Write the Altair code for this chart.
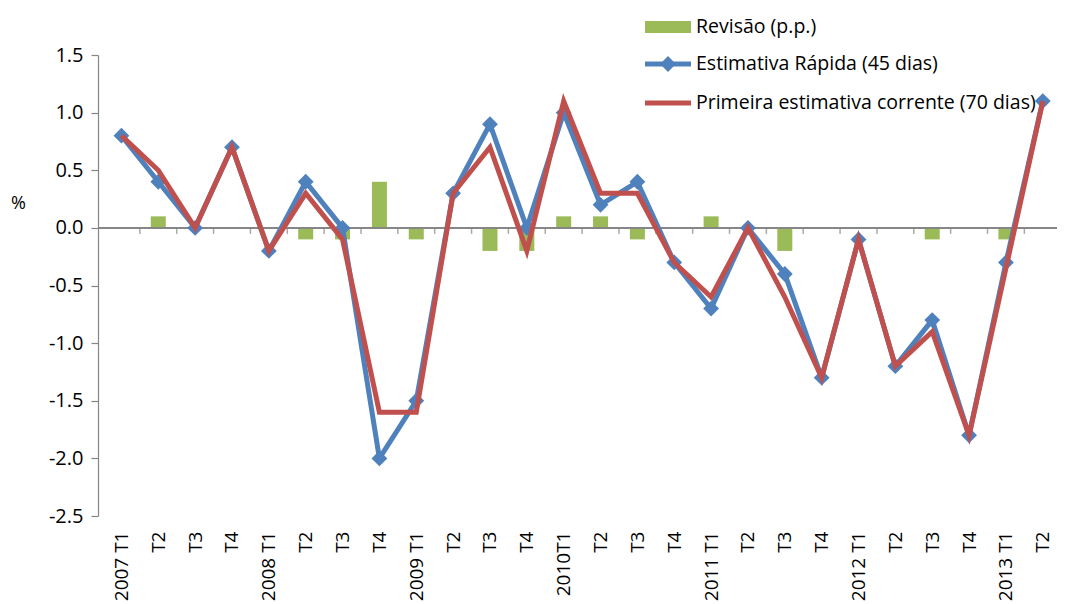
import altair as alt
import pandas as pd

periods = ["2007 T1", "T2", "T3", "T4",
           "2008 T1", "T2", "T3", "T4",
           "2009 T1", "T2", "T3", "T4",
           "2010T1", "T2", "T3", "T4",
           "2011 T1", "T2", "T3", "T4",
           "2012 T1", "T2", "T3", "T4",
           "2013 T1", "T2"]
rapida = [0.8, 0.4, 0.0, 0.7, -0.2, 0.4, 0.0, -2.0, -1.5, 0.3, 0.9, 0.0, 1.0,
          0.2, 0.4, -0.3, -0.7, 0.0, -0.4, -1.3, -0.1, -1.2, -0.8, -1.8, -0.3, 1.1]
corrente = [0.8, 0.5, 0.0, 0.7, -0.2, 0.3, -0.1, -1.6, -1.6, 0.3, 0.7, -0.2, 1.1,
            0.3, 0.3, -0.3, -0.6, 0.0, -0.6, -1.3, -0.1, -1.2, -0.9, -1.8, -0.35, 1.1]
revisao = [0.0, 0.1, 0.0, 0.0, 0.0, -0.1, -0.1, 0.4, -0.1, 0.0, -0.2, -0.2, 0.1,
           0.1, -0.1, 0.0, 0.1, 0.0, -0.2, 0.0, 0.0, 0.0, -0.1, 0.0, -0.1, 0.0]
legend_labels = ["Revisão (p.p.)", "Estimativa Rápida (45 dias)",
                 "Primeira estimativa corrente (70 dias)"]
y_ticks = [-2.5, -2.0, -1.5, -1.0, -0.5, 0.0, 0.5, 1.0, 1.5]

GREEN = "#9BBB59"
BLUE = "#4F81BD"
RED = "#C0504D"
GRAY = "#868686"
FONT = "Open Sans"

df = pd.DataFrame({
    "idx": list(range(len(periods))),
    "period": periods,
    "rapida": rapida,
    "corrente": corrente,
    "revisao": revisao,
})

label_expr = "[" + ",".join(f"'{p}'" for p in periods) + "][datum.value]"

xscale = alt.Scale(domain=[-0.5, 25.25], nice=False, zero=False)
yscale = alt.Scale(domain=[-2.5, 1.5], nice=False, zero=False)

x_axis = alt.Axis(values=list(range(len(periods))), labelExpr=label_expr,
                  labelAngle=270, labelAlign="right", labelBaseline="middle",
                  labelPadding=15, ticks=False, domain=False, grid=False,
                  labelFontSize=19, labelFont=FONT, labelColor="black",
                  title=None, labelOverlap=False, labelFlush=False, labelBound=False)

y_axis = alt.Axis(values=y_ticks,
                  labelExpr="replace(format(datum.value,'.1f'),'\u2212','-')",
                  labelFontSize=20, labelFont=FONT, labelColor="black",
                  labelPadding=8, tickSize=7, tickColor=GRAY, domainColor=GRAY,
                  tickWidth=1.2, domainWidth=1.2, grid=False,
                  title="%", titleAngle=0, titleX=-80, titleY=148,
                  titleAlign="center", titleBaseline="middle",
                  titleFont=FONT, titleFontSize=18, titleFontWeight="normal",
                  titleColor="black")

base = alt.Chart(df).encode(x=alt.X("idx:Q", scale=xscale, axis=x_axis))

bars = base.mark_bar(size=15, color=GREEN).encode(
    y=alt.Y("revisao:Q", scale=yscale, axis=y_axis))

zero_line = base.transform_calculate(z="0").mark_rule(
    color=GRAY, strokeWidth=1.5).encode(
    x=alt.value(0), x2=alt.value(959),
    y=alt.Y("z:Q", scale=yscale, axis=y_axis))

cat_ticks = base.transform_filter(
    alt.datum.idx < len(periods) - 1
).transform_calculate(b="datum.idx + 0.5", z="0").mark_tick(
    orient="vertical", size=6, thickness=1.5, color=GRAY, yOffset=3
).encode(x=alt.X("b:Q", scale=xscale, axis=x_axis),
         y=alt.Y("z:Q", scale=yscale, axis=y_axis))

blue_line = base.mark_line(color=BLUE, strokeWidth=5).encode(
    y=alt.Y("rapida:Q", scale=yscale, axis=y_axis))
blue_pts = base.mark_point(shape="diamond", filled=True, size=250, color=BLUE,
                           opacity=1).encode(y=alt.Y("rapida:Q", scale=yscale, axis=y_axis))
red_line = base.mark_line(color=RED, strokeWidth=5).encode(
    y=alt.Y("corrente:Q", scale=yscale, axis=y_axis))

# manual legend
def leg_df(i):
    return pd.DataFrame({"label": [legend_labels[i]]})

LX0, LX1, LT = 547, 593, 598
leg_rect = alt.Chart(leg_df(0)).mark_rect(color=GREEN).encode(
    x=alt.value(LX0), x2=alt.value(LX1), y=alt.value(-34), y2=alt.value(-22))
leg_blue = alt.Chart(leg_df(1)).mark_rule(color=BLUE, strokeWidth=5).encode(
    x=alt.value(LX0), x2=alt.value(LX1), y=alt.value(9))
leg_blue_pt = alt.Chart(leg_df(1)).mark_point(
    shape="diamond", filled=True, size=250, color=BLUE, opacity=1).encode(
    x=alt.value((LX0 + LX1) / 2), y=alt.value(9))
leg_red = alt.Chart(leg_df(2)).mark_rule(color=RED, strokeWidth=5).encode(
    x=alt.value(LX0), x2=alt.value(LX1), y=alt.value(48))

def leg_text(i, y):
    return alt.Chart(leg_df(i)).mark_text(
        align="left", baseline="middle", font=FONT, fontSize=19.5, color="black"
    ).encode(x=alt.value(LT), y=alt.value(y), text="label:N")

chart = alt.layer(
    bars, zero_line, cat_ticks, blue_line, blue_pts, red_line,
    leg_rect, leg_blue, leg_blue_pt, leg_red,
    leg_text(0, -28), leg_text(1, 9), leg_text(2, 48),
).properties(
    width=959, height=461,
    autosize=alt.AutoSizeParams(type="none"),
    padding={"left": 90, "top": 47, "right": 0, "bottom": 88},
    background="white",
).configure_view(stroke=None)

chart.save("out.html", embed_options={"renderer": "svg", "actions": False})
